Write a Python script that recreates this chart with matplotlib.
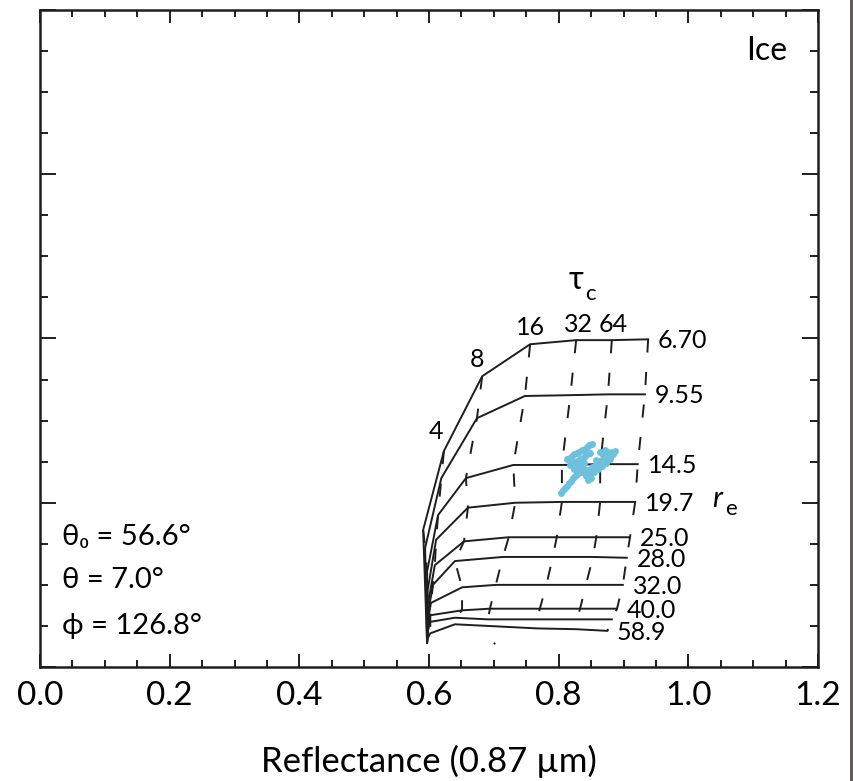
import matplotlib
matplotlib.use("Agg")
import matplotlib.pyplot as plt
from matplotlib.patches import Rectangle
from matplotlib.ticker import MultipleLocator, FormatStrFormatter

plt.rcParams["font.family"] = ["Lato", "Noto Sans", "DejaVu Sans"]
plt.rcParams["lines.scale_dashes"] = False

# optical thickness nodes along each curve
tau = [0, 2, 4, 8, 16, 32, 64, 128]
tau_labels = {4: "4", 8: "8", 16: "16", 32: "32", 64: "64"}
tau_label_offsets = {4: (-6, 14), 8: (-4, 12), 16: (0, 12), 32: (2, 11), 64: (1, 11)}

# effective radius curves (None = unlabeled curve in the bundle)
re_labels = ["6.70", "9.55", "14.5", "19.7", "25.0", "28.0", "32.0", "40.0", None, "58.9"]

# reflectance 0.87 um, one row per re, one column per tau
r087 = [
    [0.597, 0.591, 0.623, 0.682, 0.756, 0.827, 0.882, 0.938],
    [0.597, 0.594, 0.619, 0.674, 0.748, 0.818, 0.876, 0.933],
    [0.597, 0.597, 0.614, 0.657, 0.730, 0.805, 0.864, 0.922],
    [0.597, 0.598, 0.611, 0.660, 0.733, 0.805, 0.864, 0.918],
    [0.597, 0.598, 0.609, 0.654, 0.723, 0.797, 0.858, 0.910],
    [0.597, 0.598, 0.606, 0.640, 0.714, 0.791, 0.853, 0.905],
    [0.597, 0.598, 0.603, 0.651, 0.703, 0.781, 0.842, 0.899],
    [0.597, 0.598, 0.602, 0.651, 0.694, 0.771, 0.833, 0.890],
    [0.597, 0.598, 0.602, 0.640, 0.691, 0.767, 0.828, 0.882],
    [0.597, 0.598, 0.602, 0.640, 0.691, 0.767, 0.828, 0.875],
]
# reflectance at the absorbing band (y axis, unlabeled in the figure)
r213 = [
    [0.030, 0.167, 0.263, 0.354, 0.393, 0.398, 0.398, 0.399],
    [0.030, 0.145, 0.230, 0.303, 0.330, 0.331, 0.332, 0.332],
    [0.030, 0.116, 0.185, 0.230, 0.246, 0.246, 0.247, 0.247],
    [0.030, 0.094, 0.155, 0.194, 0.200, 0.201, 0.201, 0.201],
    [0.030, 0.075, 0.124, 0.153, 0.158, 0.158, 0.158, 0.158],
    [0.030, 0.063, 0.100, 0.129, 0.134, 0.134, 0.134, 0.133],
    [0.030, 0.055, 0.078, 0.097, 0.100, 0.100, 0.100, 0.100],
    [0.030, 0.047, 0.063, 0.069, 0.071, 0.071, 0.071, 0.071],
    [0.030, 0.043, 0.055, 0.060, 0.058, 0.058, 0.058, 0.058],
    [0.030, 0.035, 0.041, 0.052, 0.050, 0.047, 0.046, 0.044],
]

# observed pixels (blue cloud)
obs_x = [0.804, 0.807, 0.810, 0.813, 0.816, 0.819, 0.822, 0.825, 0.828,
         0.813, 0.817, 0.821, 0.824, 0.828, 0.832, 0.836, 0.840, 0.844, 0.847, 0.851,
         0.817, 0.821, 0.825, 0.829, 0.833, 0.837, 0.841, 0.844, 0.848,
         0.824, 0.828, 0.831, 0.835, 0.839, 0.833, 0.836, 0.839, 0.842, 0.846,
         0.845, 0.848, 0.851, 0.855, 0.858, 0.861, 0.864, 0.867, 0.870, 0.873,
         0.876, 0.879, 0.882, 0.884, 0.887, 0.850, 0.854, 0.858, 0.861, 0.864,
         0.867, 0.868, 0.872, 0.873, 0.876, 0.879]
obs_y = [0.212, 0.215, 0.218, 0.221, 0.224, 0.227, 0.230, 0.232, 0.235,
         0.253, 0.255, 0.257, 0.259, 0.261, 0.262, 0.264, 0.266, 0.268, 0.270, 0.272,
         0.246, 0.248, 0.250, 0.251, 0.253, 0.255, 0.257, 0.259, 0.261,
         0.241, 0.243, 0.245, 0.246, 0.248, 0.238, 0.237, 0.241, 0.233, 0.228,
         0.240, 0.236, 0.244, 0.240, 0.247, 0.244, 0.251, 0.249, 0.254, 0.252,
         0.258, 0.256, 0.262, 0.259, 0.263, 0.230, 0.237, 0.252, 0.241, 0.262,
         0.245, 0.258, 0.264, 0.248, 0.262, 0.253]
stray_x = [0.700]
stray_y = [0.029]

geometry = ["\u03b8\u2080 = 56.6\u00b0", "\u03b8 = 7.0\u00b0", "\u03d5 = 126.8\u00b0"]

line_color = "#1e1e1e"

fig = plt.figure(figsize=(8.54, 7.81), dpi=100)
ax = fig.add_axes([40 / 854, 1 - 667 / 781, 778 / 854, 657 / 781])

# constant re curves (solid)
for row_x, row_y in zip(r087, r213):
    ax.plot(row_x, row_y, color=line_color, lw=1.4, solid_joinstyle="miter")

# constant tau lines (dashed)
for j in range(1, len(tau)):
    col_x = [row[j] for row in r087]
    col_y = [row[j] for row in r213]
    ax.plot(col_x, col_y, color=line_color, lw=1.4, linestyle=(0, (9.5, 14)))

ax.plot(obs_x, obs_y, "o", ms=5.0, mec="none", mfc="#6ec0dc")
ax.plot(stray_x, stray_y, "o", ms=1.6, mec="none", mfc=line_color)

# tau labels on the first curve
for j, t in enumerate(tau):
    if t in tau_labels:
        ax.annotate(tau_labels[t], (r087[0][j], r213[0][j]), xytext=tau_label_offsets[t],
                    textcoords="offset points", ha="center", va="center", fontsize=18)

# re labels at the end of each curve
for lab, row_x, row_y in zip(re_labels, r087, r213):
    if lab is None:
        continue
    ax.annotate(lab, (row_x[-1], row_y[-1]), xytext=(7, -1), textcoords="offset points",
                ha="left", va="center", fontsize=18)

ax.text(0.679, 0.589, "\u03c4", transform=ax.transAxes, fontsize=23, ha="left", va="center")
ax.text(0.701, 0.568, "c", transform=ax.transAxes, fontsize=16, ha="left", va="center")
ax.text(0.864, 0.256, "r", transform=ax.transAxes, fontsize=21, style="italic", ha="left", va="center")
ax.text(0.880, 0.240, "e", transform=ax.transAxes, fontsize=16, ha="left", va="center")

ax.text(0.960, 0.937, "Ice", transform=ax.transAxes, fontsize=23, ha="right", va="center")

for txt, yy in zip(geometry, [0.198, 0.132, 0.062]):
    ax.text(0.028, yy, txt, transform=ax.transAxes, fontsize=21, ha="left", va="center")

ax.set_xlim(0, 1.2)
ax.set_ylim(0, 0.8)
ax.xaxis.set_major_locator(MultipleLocator(0.2))
ax.xaxis.set_minor_locator(MultipleLocator(0.05))
ax.xaxis.set_major_formatter(FormatStrFormatter("%.1f"))
ax.yaxis.set_major_locator(MultipleLocator(0.2))
ax.yaxis.set_minor_locator(MultipleLocator(0.05))
ax.tick_params(axis="both", which="both", direction="in", top=True, right=True,
               color=line_color, width=1.4)
ax.tick_params(axis="x", which="major", length=9.5, labelsize=24, pad=10)
ax.tick_params(axis="x", which="minor", length=5)
ax.tick_params(axis="y", which="major", length=11.5, labelleft=False)
ax.tick_params(axis="y", which="minor", length=5.8)
for sp in ax.spines.values():
    sp.set_linewidth(1.8)
    sp.set_color(line_color)

ax.set_xlabel("Reflectance (0.87 \u00b5m)", fontsize=25)
ax.xaxis.set_label_coords(0.5, -0.118)

# dark strip along the right edge of the source image
fig.add_artist(Rectangle((850 / 854, 0), 4 / 854, 1, transform=fig.transFigure,
                         facecolor="#5f5f58", edgecolor="none"))

fig.savefig("out.png", dpi=100)
